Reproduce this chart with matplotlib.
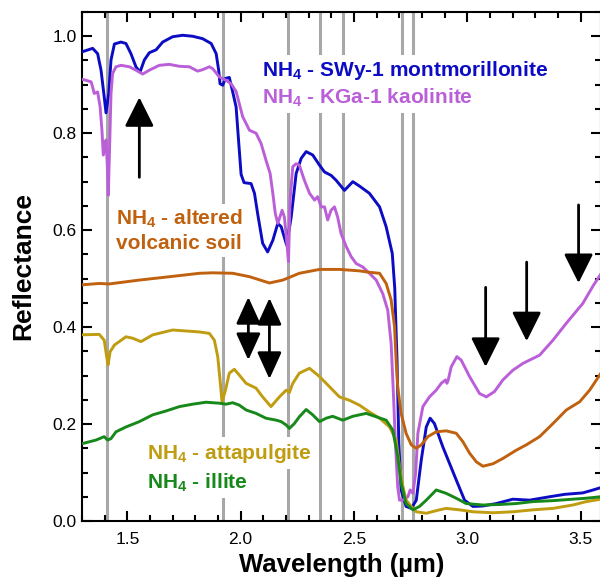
import matplotlib
matplotlib.use("Agg")
import matplotlib.pyplot as plt
from matplotlib.ticker import MultipleLocator

# ----------------------------------------------------------------------------
# Data (wavelength in um, reflectance)
# ----------------------------------------------------------------------------
mont_wl = [1.288, 1.347, 1.369, 1.384, 1.398, 1.406, 1.418, 1.428, 1.443, 1.472,
           1.494, 1.516, 1.538, 1.556, 1.575, 1.597, 1.627, 1.656, 1.700, 1.744,
           1.788, 1.832, 1.870, 1.892, 1.903, 1.909, 1.921, 1.933, 1.950, 1.965,
           1.980, 1.990, 2.002, 2.015, 2.046, 2.061, 2.075, 2.097, 2.119, 2.142,
           2.164, 2.179, 2.203, 2.223, 2.245, 2.267, 2.289, 2.318, 2.348, 2.370,
           2.399, 2.421, 2.458, 2.495, 2.524, 2.568, 2.613, 2.642, 2.669, 2.680,
           2.690, 2.698, 2.708, 2.730, 2.753, 2.775, 2.797, 2.819, 2.836, 2.855,
           2.892, 2.951, 2.988, 3.025, 3.069, 3.128, 3.201, 3.275, 3.363, 3.430,
           3.510, 3.555, 3.590]
mont_r = [0.966, 0.975, 0.964, 0.930, 0.875, 0.842, 0.882, 0.951, 0.984, 0.988,
          0.985, 0.964, 0.937, 0.926, 0.951, 0.966, 0.972, 0.988, 0.999, 1.002,
          1.000, 0.995, 0.985, 0.964, 0.930, 0.902, 0.899, 0.913, 0.915, 0.885,
          0.854, 0.790, 0.715, 0.698, 0.696, 0.676, 0.634, 0.573, 0.555, 0.579,
          0.614, 0.607, 0.569, 0.627, 0.717, 0.748, 0.762, 0.755, 0.734, 0.720,
          0.713, 0.703, 0.682, 0.700, 0.691, 0.676, 0.648, 0.607, 0.552, 0.480,
          0.330, 0.160, 0.064, 0.030, 0.026, 0.043, 0.126, 0.194, 0.212, 0.201,
          0.153, 0.085, 0.043, 0.030, 0.031, 0.036, 0.045, 0.043, 0.050, 0.055,
          0.058, 0.064, 0.069]

kaol_wl = [1.288, 1.318, 1.340, 1.347, 1.354, 1.369, 1.380, 1.388, 1.394, 1.400,
           1.406, 1.412, 1.416, 1.421, 1.428, 1.435, 1.450, 1.472, 1.509, 1.538,
           1.568, 1.597, 1.641, 1.685, 1.730, 1.774, 1.810, 1.832, 1.862, 1.877,
           1.906, 1.936, 1.958, 1.980, 2.009, 2.039, 2.068, 2.090, 2.112, 2.130,
           2.142, 2.153, 2.164, 2.183, 2.193, 2.203, 2.211, 2.218, 2.230, 2.245,
           2.259, 2.281, 2.304, 2.326, 2.340, 2.355, 2.370, 2.384, 2.399, 2.414,
           2.428, 2.443, 2.466, 2.488, 2.510, 2.539, 2.568, 2.598, 2.627, 2.649,
           2.664, 2.674, 2.683, 2.693, 2.701, 2.715, 2.738, 2.748, 2.760, 2.772,
           2.782, 2.804, 2.833, 2.863, 2.885, 2.904, 2.910, 2.916, 2.929, 2.954,
           2.973, 3.010, 3.054, 3.084, 3.120, 3.157, 3.201, 3.245, 3.275, 3.319,
           3.378, 3.437, 3.510, 3.555, 3.590]
kaol_r = [0.913, 0.909, 0.906, 0.895, 0.882, 0.885, 0.854, 0.806, 0.755, 0.772,
          0.786, 0.731, 0.672, 0.758, 0.882, 0.923, 0.937, 0.940, 0.937, 0.930,
          0.922, 0.930, 0.940, 0.942, 0.938, 0.937, 0.928, 0.931, 0.937, 0.933,
          0.916, 0.909, 0.902, 0.886, 0.834, 0.806, 0.800, 0.779, 0.744, 0.717,
          0.676, 0.634, 0.614, 0.641, 0.627, 0.579, 0.535, 0.662, 0.731, 0.737,
          0.734, 0.703, 0.676, 0.662, 0.669, 0.648, 0.648, 0.621, 0.641, 0.648,
          0.627, 0.593, 0.566, 0.545, 0.531, 0.524, 0.511, 0.497, 0.469, 0.435,
          0.366, 0.263, 0.160, 0.071, 0.043, 0.043, 0.050, 0.064, 0.057, 0.098,
          0.181, 0.236, 0.256, 0.270, 0.284, 0.291, 0.284, 0.291, 0.318, 0.339,
          0.332, 0.298, 0.263, 0.256, 0.267, 0.291, 0.311, 0.325, 0.332, 0.342,
          0.373, 0.408, 0.449, 0.485, 0.510]

soil_wl = [1.295, 1.376, 1.420, 1.553, 1.744, 1.818, 1.877, 1.965, 2.039, 2.127,
           2.186, 2.259, 2.348, 2.436, 2.524, 2.568, 2.613, 2.642, 2.664, 2.679,
           2.686, 2.693, 2.708, 2.730, 2.753, 2.775, 2.797, 2.826, 2.863, 2.907,
           2.951, 2.980, 3.010, 3.040, 3.069, 3.113, 3.157, 3.216, 3.260, 3.319,
           3.378, 3.437, 3.496, 3.540, 3.590]
soil_r = [0.487, 0.490, 0.489, 0.497, 0.507, 0.511, 0.512, 0.511, 0.504, 0.491,
          0.497, 0.511, 0.519, 0.519, 0.516, 0.513, 0.511, 0.490, 0.456, 0.401,
          0.332, 0.277, 0.222, 0.181, 0.157, 0.150, 0.157, 0.174, 0.184, 0.186,
          0.181, 0.164, 0.140, 0.122, 0.113, 0.118, 0.129, 0.146, 0.157, 0.174,
          0.201, 0.229, 0.246, 0.270, 0.305]

atta_wl = [1.296, 1.376, 1.398, 1.409, 1.415, 1.424, 1.443, 1.494, 1.524, 1.560,
           1.612, 1.700, 1.759, 1.818, 1.862, 1.884, 1.899, 1.909, 1.918, 1.933,
           1.950, 1.972, 1.994, 2.024, 2.068, 2.097, 2.134, 2.171, 2.201, 2.215,
           2.230, 2.259, 2.304, 2.348, 2.392, 2.436, 2.480, 2.524, 2.568, 2.613,
           2.657, 2.686, 2.701, 2.716, 2.730, 2.753, 2.775, 2.819, 2.877, 2.907,
           2.966, 3.025, 3.113, 3.201, 3.289, 3.378, 3.466, 3.525, 3.590]
atta_r = [0.384, 0.385, 0.373, 0.339, 0.322, 0.349, 0.363, 0.380, 0.377, 0.370,
          0.384, 0.394, 0.392, 0.390, 0.387, 0.373, 0.339, 0.291, 0.246, 0.270,
          0.305, 0.313, 0.301, 0.284, 0.274, 0.256, 0.236, 0.256, 0.270, 0.265,
          0.284, 0.305, 0.315, 0.298, 0.277, 0.256, 0.249, 0.239, 0.225, 0.212,
          0.194, 0.167, 0.112, 0.071, 0.043, 0.030, 0.019, 0.016, 0.023, 0.026,
          0.023, 0.019, 0.017, 0.019, 0.023, 0.026, 0.033, 0.040, 0.045]

illi_wl = [1.296, 1.362, 1.398, 1.413, 1.428, 1.450, 1.494, 1.553, 1.612, 1.671,
           1.730, 1.788, 1.847, 1.906, 1.936, 1.965, 1.994, 2.024, 2.068, 2.112,
           2.157, 2.179, 2.201, 2.215, 2.237, 2.259, 2.289, 2.318, 2.348, 2.377,
           2.406, 2.428, 2.451, 2.495, 2.554, 2.598, 2.642, 2.671, 2.693, 2.708,
           2.730, 2.760, 2.789, 2.819, 2.863, 2.907, 2.951, 2.995, 3.069, 3.142,
           3.216, 3.289, 3.378, 3.466, 3.525, 3.590]
illi_r = [0.159, 0.167, 0.174, 0.167, 0.170, 0.184, 0.194, 0.205, 0.219, 0.227,
          0.236, 0.241, 0.245, 0.243, 0.241, 0.244, 0.239, 0.229, 0.222, 0.212,
          0.208, 0.205, 0.198, 0.191, 0.201, 0.215, 0.230, 0.219, 0.205, 0.212,
          0.216, 0.212, 0.208, 0.216, 0.222, 0.215, 0.208, 0.188, 0.133, 0.078,
          0.036, 0.023, 0.030, 0.043, 0.064, 0.057, 0.047, 0.036, 0.033, 0.034,
          0.036, 0.040, 0.042, 0.045, 0.047, 0.050]

# NH4 band positions marked with gray lines
band_lines = [1.41, 1.92, 2.21, 2.35, 2.45, 2.71, 2.76]

# arrows: (x, tail_y, tip_y)
up_arrows = [(1.553, 0.709, 0.874)]
double_arrows = [(2.034, 0.332, 0.462), (2.127, 0.293, 0.460)]
down_arrows = [(3.081, 0.482, 0.318), (3.262, 0.534, 0.371), (3.491, 0.652, 0.491)]

BLUE = "#0c0cc4"
PURPLE = "#bb5fd9"
ORANGE = "#c0610f"
GOLD = "#c09c10"
GREEN = "#17881a"
GRAY = "#a8a8a8"

plt.rcParams.update({
    "font.family": ["Liberation Sans", "DejaVu Sans"],
    "mathtext.fontset": "custom",
    "mathtext.rm": "Liberation Sans",
    "mathtext.bf": "Liberation Sans:bold",
})

fig = plt.figure(figsize=(6.0, 5.77), dpi=100)
ax = fig.add_axes([82 / 600, 56 / 577, 519 / 600, 509 / 577])

for wl in band_lines:
    ax.axvline(wl, color=GRAY, linewidth=2.2, zorder=1)

series = [
    (mont_wl, mont_r, BLUE),
    (kaol_wl, kaol_r, PURPLE),
    (soil_wl, soil_r, ORANGE),
    (atta_wl, atta_r, GOLD),
    (illi_wl, illi_r, GREEN),
]
for wl, r, c in series:
    ax.plot(wl, r, color=c, linewidth=2.1, zorder=3, solid_joinstyle="round")

# curve labels sit on white boxes that interrupt the gray band lines
box = dict(facecolor="white", edgecolor="none", pad=3)
label_kw = dict(fontsize=15, fontweight="bold", va="center", ha="left", zorder=2, bbox=box)
ax.text(2.096, 0.930, r"NH$_\mathbf{4}$ - SWy-1 montmorillonite", color=BLUE, **label_kw)
ax.text(2.096, 0.874, r"NH$_\mathbf{4}$ - KGa-1 kaolinite", color=PURPLE, **label_kw)
ax.text(1.451, 0.623, r"NH$_\mathbf{4}$ - altered", color=ORANGE, **label_kw)
ax.text(1.451, 0.573, "volcanic soil", color=ORANGE, **label_kw)
ax.text(1.588, 0.140, r"NH$_\mathbf{4}$ - attapulgite", color=GOLD, **label_kw)
ax.text(1.588, 0.080, r"NH$_\mathbf{4}$ - illite", color=GREEN, **label_kw)

single = dict(arrowstyle="-|>,head_length=1.2,head_width=0.6", color="black",
              lw=2.0, mutation_scale=15, shrinkA=0, shrinkB=0)
double = dict(arrowstyle="<|-|>,head_length=1.1,head_width=0.5", color="black",
              lw=2.0, mutation_scale=15, shrinkA=0, shrinkB=0)
for x, y0, y1 in up_arrows + down_arrows:
    ax.annotate("", xy=(x, y1), xytext=(x, y0), arrowprops=single, zorder=5)
for x, y0, y1 in double_arrows:
    ax.annotate("", xy=(x, y1), xytext=(x, y0), arrowprops=double, zorder=5)

ax.set_xlim(1.3, 3.59)
ax.set_ylim(0, 1.05)
ax.xaxis.set_major_locator(MultipleLocator(0.5))
ax.xaxis.set_minor_locator(MultipleLocator(0.1))
ax.yaxis.set_major_locator(MultipleLocator(0.2))
ax.yaxis.set_minor_locator(MultipleLocator(0.05))
ax.tick_params(which="both", direction="in", top=True, right=True, width=1.5,
               labelsize=12.5)
ax.tick_params(axis="x", pad=8)
ax.tick_params(axis="y", pad=4)
ax.tick_params(which="major", length=7)
ax.tick_params(which="minor", length=4)
for s in ax.spines.values():
    s.set_linewidth(1.5)

ax.set_xlabel("Wavelength (µm)", fontsize=18.5, fontweight="bold", labelpad=4)
ax.set_ylabel("Reflectance", fontsize=19, fontweight="bold", labelpad=12)

fig.savefig("out.png", dpi=100)
